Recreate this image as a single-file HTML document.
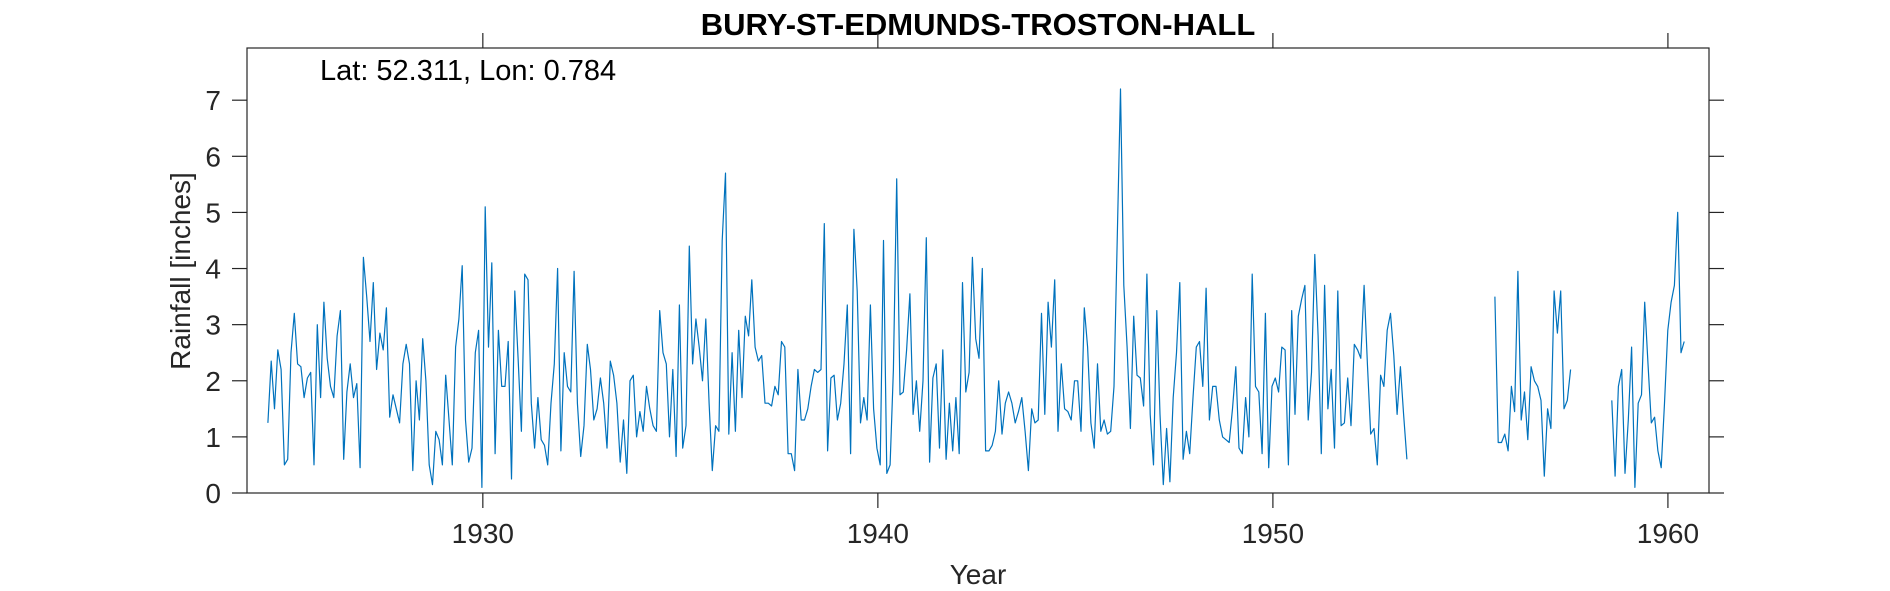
<!DOCTYPE html>
<html><head><meta charset="utf-8"><style>
html,body{margin:0;padding:0;background:#fff;}
svg{display:block;font-family:"Liberation Sans",sans-serif;}
</style></head><body>
<svg id="chart" width="1890" height="591" viewBox="0 0 1890 591">
  <rect x="0" y="0" width="1890" height="591" fill="#fff"/>
  <text x="978" y="35" text-anchor="middle" font-size="31" font-weight="bold" fill="#000">BURY-ST-EDMUNDS-TROSTON-HALL</text>
  <g id="ticks"></g>
  <g id="series"></g>
  <rect x="247" y="48" width="1462" height="445" fill="none" stroke="#262626" stroke-width="1.2"/>
  <text x="320" y="80" font-size="29" fill="#000">Lat: 52.311, Lon: 0.784</text>
  <text x="978" y="584" text-anchor="middle" font-size="28" fill="#262626">Year</text>
  <text transform="translate(190,271) rotate(-90)" text-anchor="middle" font-size="28" fill="#262626">Rainfall [inches]</text>
</svg>
<script>
const xTicks = [1930, 1940, 1950, 1960];
const yTicks = [0, 1, 2, 3, 4, 5, 6, 7];
const segStarts = [1924.56, 1955.62, 1958.58];
const seg1 = [1.25,2.35,1.5,2.55,2.2,0.5,
0.6,2.5,3.2,2.3,2.25,1.7,2.05,2.15,0.5,3.0,1.7,3.4,
2.4,1.9,1.7,2.8,3.25,0.6,1.8,2.3,1.7,1.95,0.45,4.2,
3.5,2.7,3.75,2.2,2.85,2.55,3.3,1.35,1.75,1.5,1.25,2.3,
2.65,2.3,0.4,2.0,1.3,2.75,2.0,0.5,0.15,1.1,0.95,0.5,
2.1,1.3,0.5,2.6,3.1,4.05,1.3,0.55,0.8,2.5,2.9,0.1,
5.1,2.6,4.1,0.7,2.9,1.9,1.9,2.7,0.25,3.6,2.4,1.1,
3.9,3.8,1.6,0.8,1.7,0.95,0.85,0.5,1.6,2.3,4.0,0.75,
2.5,1.9,1.8,3.95,1.6,0.65,1.2,2.65,2.2,1.3,1.5,2.05,
1.6,0.8,2.35,2.1,1.6,0.55,1.3,0.35,2.0,2.1,1.0,1.45,
1.1,1.9,1.5,1.2,1.1,3.25,2.5,2.3,1.0,2.2,0.65,3.35,
0.8,1.2,4.4,2.3,3.1,2.6,2.0,3.1,1.6,0.4,1.2,1.1,
4.5,5.7,1.05,2.5,1.1,2.9,1.7,3.15,2.8,3.8,2.6,2.35,
2.45,1.6,1.6,1.55,1.9,1.75,2.7,2.6,0.7,0.7,0.4,2.2,
1.3,1.3,1.5,1.9,2.2,2.15,2.2,4.8,0.75,2.05,2.1,1.3,
1.6,2.3,3.35,0.7,4.7,3.6,1.25,1.7,1.3,3.35,1.5,0.8,
0.5,4.5,0.35,0.5,2.2,5.6,1.75,1.8,2.55,3.55,1.4,2.0,
1.1,2.0,4.55,0.55,2.05,2.3,0.8,2.55,0.6,1.6,0.75,1.7,
0.7,3.75,1.8,2.15,4.2,2.75,2.4,4.0,0.75,0.75,0.85,1.1,
2.0,1.05,1.6,1.8,1.6,1.25,1.45,1.7,1.1,0.4,1.5,1.25,
1.3,3.2,1.4,3.4,2.6,3.8,1.1,2.3,1.5,1.45,1.3,2.0,
2.0,1.1,3.3,2.6,1.25,0.8,2.3,1.1,1.3,1.05,1.1,1.9,
4.5,7.2,3.7,2.6,1.15,3.15,2.1,2.05,1.55,3.9,1.4,0.5,
3.25,1.4,0.15,1.15,0.2,1.7,2.5,3.75,0.6,1.1,0.7,1.7,
2.6,2.7,1.9,3.65,1.3,1.9,1.9,1.3,1.0,0.95,0.9,1.5,
2.25,0.8,0.7,1.7,1.0,3.9,1.9,1.8,0.7,3.2,0.45,1.9,
2.05,1.8,2.6,2.55,0.5,3.25,1.4,3.15,3.45,3.7,
1.3,2.15,4.25,2.8,0.7,3.7,1.5,2.2,0.8,3.6,1.2,1.25,
2.05,1.2,2.65,2.55,2.4,3.7,2.3,1.05,1.15,0.5,2.1,1.9,
2.9,3.2,2.45,1.4,2.25,1.4,0.6];
const seg2 = [3.5,0.9,0.9,1.05,0.75,1.9,1.45,3.95,1.3,1.8,0.95,2.25,2.0,1.9,1.65,0.3,1.5,1.15,3.6,2.85,3.6,1.5,1.65,2.2];
const seg3 = [1.65,0.3,1.9,2.2,0.35,1.3,2.6,0.1,1.6,1.75,3.4,2.3,1.25,1.35,0.75,0.45,1.6,2.9,3.4,3.7,5.0,2.5,2.7];

const NS = 'http://www.w3.org/2000/svg';
const L = 247, R = 1709, T = 48, B = 493;
const xMin = 1924.03, xMax = 1961.04, yMin = 0, yMax = 7.93;
function xScale(v){ return L + (v - xMin) / (xMax - xMin) * (R - L); }
function yScale(v){ return B - (v - yMin) / (yMax - yMin) * (B - T); }

const tg = document.getElementById('ticks');
function line(x1,y1,x2,y2){
  const l = document.createElementNS(NS,'line');
  l.setAttribute('x1',x1); l.setAttribute('y1',y1); l.setAttribute('x2',x2); l.setAttribute('y2',y2);
  l.setAttribute('stroke','#262626'); l.setAttribute('stroke-width','1.2');
  return l;
}
xTicks.forEach(v => {
  const x = xScale(v);
  const a = line(x, B, x, B + 15);
  
  
  tg.appendChild(a);
  const b = line(x, T, x, T - 15);
  
  
  tg.appendChild(b);
  const t = document.createElementNS(NS,'text');
  t.setAttribute('x', x); t.setAttribute('y', B + 50);
  t.setAttribute('text-anchor','middle'); t.setAttribute('font-size','28'); t.setAttribute('fill','#262626');
  t.textContent = v;
  
  
  tg.appendChild(t);
});
yTicks.forEach(v => {
  const y = yScale(v);
  const a = line(L - 15, y, L, y);
  
  
  tg.appendChild(a);
  const b = line(R, y, R + 15, y);
  
  
  tg.appendChild(b);
  const t = document.createElementNS(NS,'text');
  t.setAttribute('x', L - 26); t.setAttribute('y', y + 10);
  t.setAttribute('text-anchor','end'); t.setAttribute('font-size','28'); t.setAttribute('fill','#262626');
  t.textContent = v;
  
  
  tg.appendChild(t);
});

const sg = document.getElementById('series');
[seg1, seg2, seg3].forEach((seg, si) => {
  const pts = seg.map((v, i) => xScale(segStarts[si] + i / 12).toFixed(1) + ',' + yScale(v).toFixed(1)).join(' ');
  const p = document.createElementNS(NS,'polyline');
  p.setAttribute('points', pts);
  p.setAttribute('fill','none'); p.setAttribute('stroke','#0072BD'); p.setAttribute('stroke-width','1.2');
  p.setAttribute('stroke-linejoin','round');
  
  
  sg.appendChild(p);
});
</script>
</body></html>
